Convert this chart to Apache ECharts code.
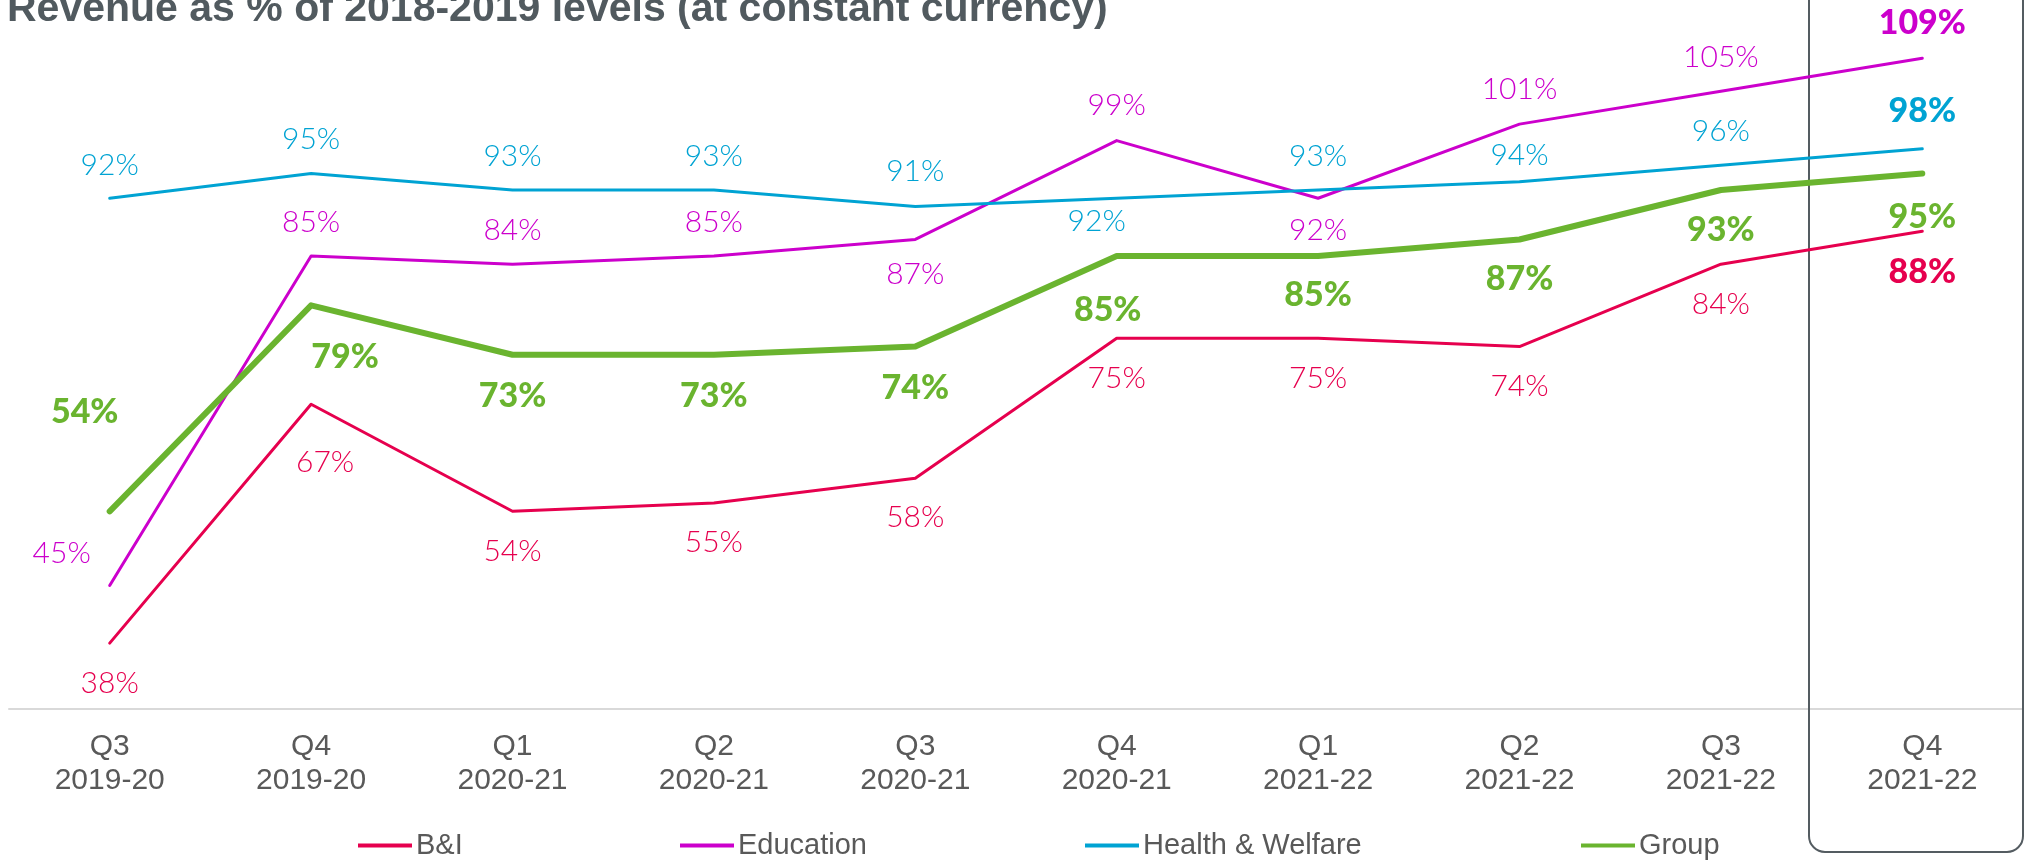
<!DOCTYPE html>
<html>
<head>
<meta charset="utf-8">
<title>Revenue as % of 2018-2019 levels</title>
<script src="https://cdn.jsdelivr.net/npm/echarts@6/dist/echarts.min.js"></script>
<style>
  html, body { margin: 0; padding: 0; background: #ffffff; }
  #chart { width: 2024px; height: 865px; }
</style>
</head>
<body>
<div id="chart"></div>
<script>
// Quarters shown on the x axis
const categories = [
  'Q3\n2019-20', 'Q4\n2019-20', 'Q1\n2020-21', 'Q2\n2020-21', 'Q3\n2020-21',
  'Q4\n2020-21', 'Q1\n2021-22', 'Q2\n2021-22', 'Q3\n2021-22', 'Q4\n2021-22'
];

// Revenue as % of 2018-2019 levels, per sector
const biValues        = [38, 67, 54, 55, 58, 75, 75, 74, 84, 88];
const educationValues = [45, 85, 84, 85, 87, 99, 92, 101, 105, 109];
const healthValues    = [92, 95, 93, 93, 91, 92, 93, 94, 96, 98];
const groupValues     = [54, 79, 73, 73, 74, 85, 85, 87, 93, 95];

const seriesNames = ['B&I', 'Education', 'Health & Welfare', 'Group'];

// Label placement relative to each point (centre offsets in px)
const labelOffsets = {
  'B&I':              [[0, 40], [14, 58], [0, 40], [0, 39], [0, 39], [0, 40], [0, 40], [0, 40], [0, 40], [0, 41]],
  'Education':        [[-48, -32], [0, -34], [0, -34], [0, -34], [0, 35], [0, -35], [0, 32], [0, -35], [0, -34], [0, -35]],
  'Health & Welfare': [[0, -33], [0, -34], [0, -34], [0, -34], [0, -35], [-20, 23], [0, -34], [0, -26], [0, -34], [0, -38]],
  'Group':            [[-25, -99], [34, 52], [0, 41], [0, 41], [0, 41], [-9, 54], [0, 39], [0, 40], [0, 40], [0, 43]]
};

const colors = {
  'B&I': '#e6004e',
  'Education': '#cc00cc',
  'Health & Welfare': '#00a3d3',
  'Group': '#6ab42f'
};

const LABEL_FONT = 'Lato, "Noto Sans", sans-serif';
const AXIS_FONT = '"Liberation Sans", Arial, sans-serif';

function buildSeries(name, values, lineWidth, boldAll) {
  const offsets = labelOffsets[name];
  const lastIdx = values.length - 1;
  return {
    name: name,
    type: 'line',
    data: values.map(function (v, i) {
      const bold = boldAll || i === lastIdx;
      return {
        value: v,
        label: {
          offset: offsets[i],
          fontWeight: bold ? 900 : 300,
          fontSize: bold ? 34 : 30
        }
      };
    }),
    symbol: 'circle',
    symbolSize: 1,
    itemStyle: { color: colors[name] },
    lineStyle: { color: colors[name], width: lineWidth, cap: 'round', join: 'round' },
    label: {
      show: true,
      position: 'inside',
      formatter: '{c}%',
      color: colors[name],
      fontFamily: LABEL_FONT
    },
    emphasis: { disabled: true },
    animation: false,
    z: 3
  };
}

// One legend per entry so each can sit at its own spot along the bottom
const legendStarts = [358, 680, 1085, 1581];
const legends = seriesNames.map(function (name, i) {
  return {
    data: [name],
    left: legendStarts[i],
    top: 831,
    icon: 'rect',
    itemWidth: 54,
    itemHeight: 4,
    itemGap: 0,
    padding: 0,
    selectedMode: false,
    textStyle: { fontFamily: AXIS_FONT, fontSize: 29, color: '#595959', padding: [0, 0, 0, -1] }
  };
});

const chart = echarts.init(document.getElementById('chart'), null, { renderer: 'canvas' });

chart.setOption({
  backgroundColor: '#ffffff',
  animation: false,
  title: {
    text: 'Revenue as % of 2018-2019 levels (at constant currency)',
    left: 7,
    top: -11,
    padding: 0,
    textStyle: { fontFamily: AXIS_FONT, fontSize: 41, fontWeight: 'bold', color: '#515a5f' }
  },
  legend: legends,
  grid: { left: 9, right: 1, top: 50, bottom: 156, containLabel: false },
  xAxis: {
    type: 'category',
    data: categories,
    boundaryGap: true,
    axisLine: { show: true, lineStyle: { color: '#d9d9d9', width: 2 } },
    axisTick: { show: false },
    axisLabel: {
      margin: 21,
      fontFamily: AXIS_FONT,
      fontSize: 30,
      lineHeight: 34,
      color: '#595959'
    },
    splitLine: { show: false }
  },
  yAxis: {
    type: 'value',
    min: 30,
    max: 110,
    show: false,
    splitLine: { show: false }
  },
  graphic: [
    {
      // Rounded frame highlighting the latest quarter
      type: 'rect',
      z: 1,
      shape: { x: 1809, y: -30, width: 214, height: 882, r: 16 },
      style: { fill: 'none', stroke: '#545c61', lineWidth: 2 }
    }
  ],
  series: [
    buildSeries('B&I', biValues, 3, false),
    buildSeries('Education', educationValues, 3, false),
    buildSeries('Health & Welfare', healthValues, 3, false),
    buildSeries('Group', groupValues, 6, true)
  ]
});
</script>
</body>
</html>
